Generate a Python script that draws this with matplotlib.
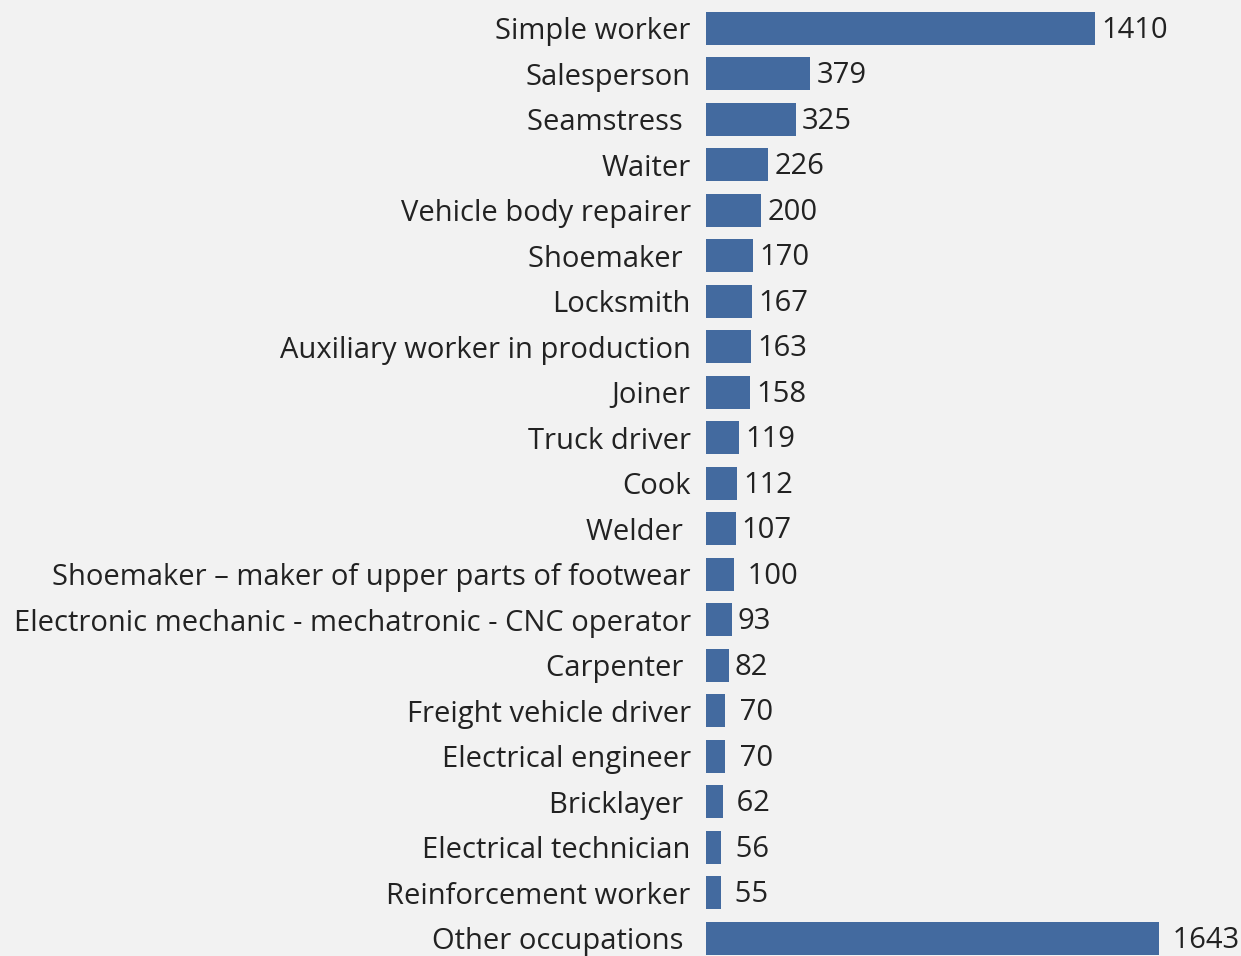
import matplotlib
matplotlib.use("Agg")
import matplotlib.pyplot as plt

categories = [
    "Simple worker", "Salesperson", "Seamstress ", "Waiter", "Vehicle body repairer",
    "Shoemaker ", "Locksmith", "Auxiliary worker in production", "Joiner", "Truck driver",
    "Cook", "Welder ", "Shoemaker \u2013 maker of upper parts of footwear",
    "Electronic mechanic - mechatronic - CNC operator", "Carpenter ",
    "Freight vehicle driver", "Electrical engineer", "Bricklayer ", "Electrical technician",
    "Reinforcement worker", "Other occupations ",
]
values = [1410, 379, 325, 226, 200, 170, 167, 163, 158, 119, 112, 107, 100, 93, 82, 70, 70, 62, 56, 55, 1643]
value_labels = ["1410", "379", "325", "226", "200", "170", "167", "163", "158", "119",
                "112", "107", " 100", "93", "82", " 70", " 70", " 62", " 56", " 55", " 1643"]

W, H = 1241, 956
fig = plt.figure(figsize=(W / 100, H / 100), dpi=100)
bg = "#f2f2f2"
fig.patch.set_facecolor(bg)

left = 706 / W
right = 1159 / W
ax = fig.add_axes([left, 0, right - left, 1])
ax.set_facecolor(bg)

pos = list(range(len(values)))
ax.barh(pos, values, height=0.72, color="#436a9f")
ax.set_xlim(0, 1643)
ax.set_ylim((956 - 28.3) / 45.5, -28.3 / 45.5)

fam = ["Open Sans", "DejaVu Sans"]
ax.set_yticks(pos)
ax.set_yticklabels(categories, fontsize=21, color="#222222", family=fam)
ax.tick_params(axis="y", length=0, pad=11)
ax.set_xticks([])
for s in ax.spines.values():
    s.set_visible(False)

for p, v, lab in zip(pos, values, value_labels):
    ax.annotate(lab, xy=(v, p), xytext=(4.5, -1.5), textcoords="offset points",
                ha="left", va="center", fontsize=21, color="#222222",
                family=fam, annotation_clip=False)

fig.savefig("out.png", dpi=100, facecolor=bg)
